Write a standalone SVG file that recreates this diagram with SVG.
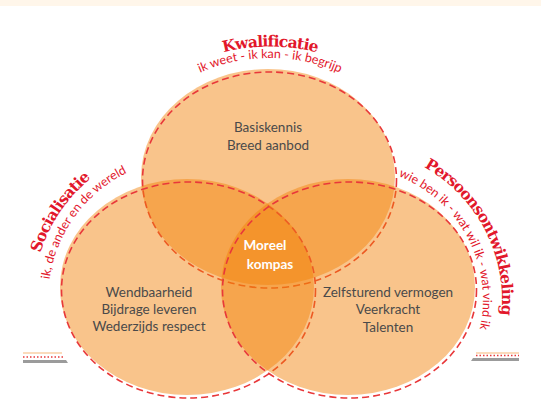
<svg xmlns="http://www.w3.org/2000/svg" width="541" height="404" viewBox="0 0 541 404">
<style>
.fill{fill:#F28208;fill-opacity:0.47}
.dash{fill:none;stroke:#E8383A;stroke-width:1.6;stroke-dasharray:7 4}
.title{font-family:"DejaVu Serif",serif;font-weight:bold;font-size:15.5px;letter-spacing:-0.8px;fill:#E2172B}
.sub{font-family:Lato,"Liberation Sans",sans-serif;font-size:12.5px;fill:#E2172B}
.body{font-family:Lato,"Liberation Sans",sans-serif;font-size:13.5px;fill:#4A4A4A;text-anchor:middle}
.center{font-family:Lato,"Liberation Sans",sans-serif;font-size:13.5px;font-weight:bold;fill:#FFFFFF;text-anchor:middle}
</style>
<defs>
<path id="pKwal" d="M 78.5,238 A 191.5,191.5 0 0 1 461.5,238"/>
<path id="pKwalSub" d="M 96,232 A 174,174 0 0 1 444,232"/>
<path id="pSoc" d="M 39.1,343.1 A 157,157 0 0 1 173.6,143.9"/>
<path id="pSocSub" d="M 52.2,334.4 A 142,142 0 0 1 180.1,158.3"/>
<path id="pPers" d="M 382.3,151.4 A 152,152 0 0 1 490.6,357.7"/>
<path id="pPersSub" d="M 354.6,167.1 A 133,133 0 0 1 462.8,370.5"/>
</defs>
<rect x="0" y="0" width="541" height="404" fill="#FFFFFF"/>
<rect x="0" y="0" width="541" height="6" fill="#FFF6EA"/>

<g id="kwalificatie">
<ellipse class="fill" cx="268" cy="177" rx="127" ry="108"/>
<ellipse class="dash" cx="269.5" cy="180" rx="127" ry="108"/>
<text class="title"><textPath href="#pKwal" startOffset="50%" text-anchor="middle">Kwalificatie</textPath></text>
<text class="sub"><textPath href="#pKwalSub" startOffset="50%" text-anchor="middle">ik weet - ik kan - ik begrijp</textPath></text>
<text class="body" x="268" y="132">Basiskennis</text>
<text class="body" x="268" y="150">Breed aanbod</text>
</g>

<g id="socialisatie">
<ellipse class="fill" cx="187" cy="287" rx="127" ry="108"/>
<ellipse class="dash" cx="188.5" cy="290" rx="127" ry="108"/>
<text class="title"><textPath href="#pSoc" startOffset="50%" text-anchor="middle">Socialisatie</textPath></text>
<text class="sub"><textPath href="#pSocSub" startOffset="50%" text-anchor="middle">ik, de ander en de wereld</textPath></text>
<text class="body" x="149" y="297">Wendbaarheid</text>
<text class="body" x="149" y="314">Bijdrage leveren</text>
<text class="body" x="149" y="331">Wederzijds respect</text>
</g>

<g id="persoonsontwikkeling">
<ellipse class="fill" cx="348" cy="287" rx="127" ry="108"/>
<ellipse class="dash" cx="349.5" cy="290" rx="127" ry="108"/>
<text class="title"><textPath href="#pPers" startOffset="50%" text-anchor="middle">Persoonsontwikkeling</textPath></text>
<text class="sub"><textPath href="#pPersSub" startOffset="50%" text-anchor="middle">wie ben ik - wat wil ik - wat vind ik</textPath></text>
<text class="body" x="388" y="297">Zelfsturend vermogen</text>
<text class="body" x="388" y="314">Veerkracht</text>
<text class="body" x="388" y="332">Talenten</text>
</g>

<g id="moreel-kompas">
<text class="center" x="265" y="250">Moreel</text>
<text class="center" x="270" y="269">kompas</text>
</g>

<g id="deco-left">
<line x1="23" y1="353" x2="62" y2="353" stroke="#F7B77A" stroke-width="1.2"/>
<line x1="23" y1="357" x2="63" y2="357" stroke="#E8383A" stroke-width="1.6" stroke-dasharray="1.5 2"/>
<polygon points="23,360 66,360 68,363 23,363" fill="#9B9B9B"/>
</g>
<g id="deco-right">
<line x1="476" y1="353" x2="519" y2="353" stroke="#F7B77A" stroke-width="1.2"/>
<line x1="476" y1="355.5" x2="519" y2="355.5" stroke="#E8383A" stroke-width="1.6" stroke-dasharray="1.5 2"/>
<polygon points="473,358 519,358 519,361 471,361" fill="#9B9B9B"/>
</g>
<g id="connectors"/>
</svg>
